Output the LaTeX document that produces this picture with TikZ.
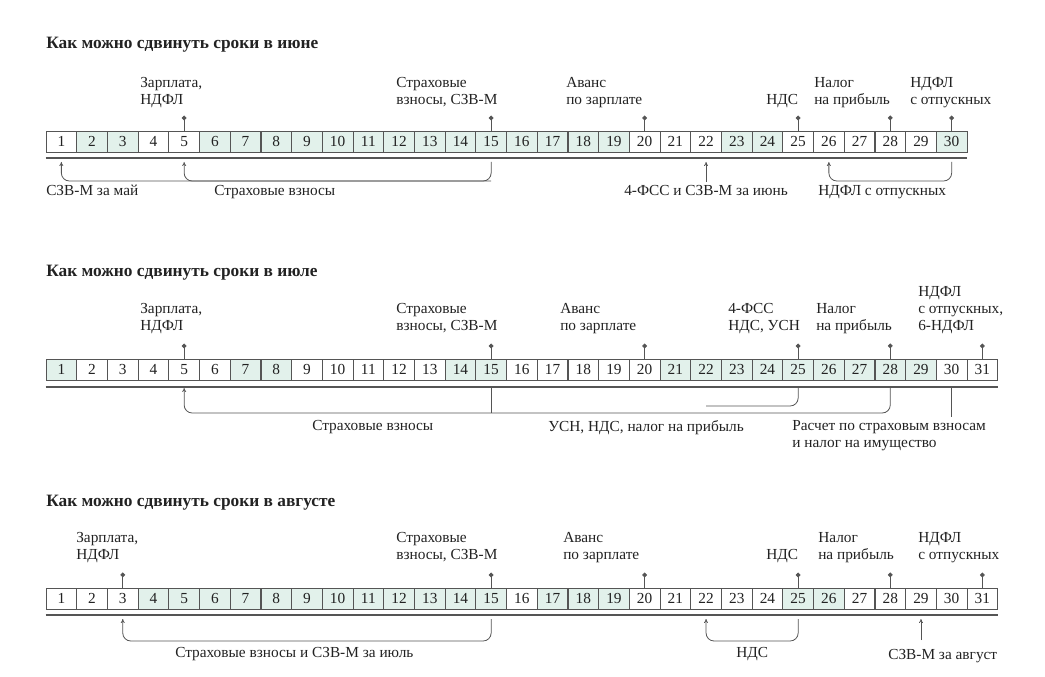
\documentclass[tikz,border=0pt]{standalone}
\usepackage{fontspec}
\setmainfont{Liberation Serif}
\usetikzlibrary{arrows.meta}
\definecolor{shd}{HTML}{E2F1EB}
\definecolor{ln}{HTML}{555555}
\definecolor{tx}{HTML}{222222}
\tikzset{
  cell/.style={draw=ln,line width=0.6pt,minimum width=23pt,minimum height=15.75pt,inner sep=0,text=tx,font=\fontsize{11.5}{13}\selectfont},
  sh/.style={cell,fill=shd},
  wh/.style={cell,fill=white},
  lbl/.style={anchor=north west,inner sep=0,align=left,text=tx,font=\fontsize{11.5}{13}\selectfont},
  ttl/.style={anchor=west,inner sep=0,text=tx,font=\fontsize{13}{15}\selectfont\bfseries},
  pin/.style={draw=ln,line width=0.6pt,{Circle[length=3.5pt]}-},
  br/.style={draw=ln,line width=0.6pt,rounded corners=6pt},
  arr/.style={-{To[length=3pt,width=3pt]}},
  base/.style={draw=ln,line width=0.8pt}
}
\begin{document}
\begin{tikzpicture}[x=0.75pt,y=-0.75pt]
\useasboundingbox (0,0) rectangle (1045,677);
% ===== June =====
\node[ttl] (t1) at (46,45) {Как можно сдвинуть сроки в июне};
\foreach \n in {2,3,6,7,8,9,10,11,12,13,14,15,16,17,18,19,23,24,30}
  \node[sh] (j\n) at ({46+30.7*(\n-0.5)},141.5) {\n};
\foreach \n in {1,4,5,20,21,22,25,26,27,28,29}
  \node[wh] (j\n) at ({46+30.7*(\n-0.5)},141.5) {\n};
\draw[base] (j1.south west |- 0,158) coordinate (jl0) -- (j30.south east |- 0,158) coordinate (jl1);
\foreach \n in {1,5,15,20,22,25,26,28,30}
  \path (j\n.center) ++(0,20.5) coordinate (jt\n);
\coordinate (jy) at (0,181);
\foreach \n in {5,15,20,25,28,30}
  \draw[pin] (j\n.north) ++(0,-15) -- (j\n.north);
\node[lbl] (l1) at (140,77) {Зарплата,\\НДФЛ};
\node[lbl] (l2) at (396,77) {Страховые\\взносы, СЗВ-М};
\node[lbl] (l3) at (566,77) {Аванс\\по зарплате};
\node[lbl] (l4) at (766,94) {НДС};
\node[lbl] (l5) at (814,77) {Налог\\на прибыль};
\node[lbl] (l6) at (910,77) {НДФЛ\\с отпускных};
\draw[br,arr] (jt15) |- (jt1 |- jy) -- (jt1);
\draw[br,arr] (jt15 |- jy) -| (jt5);
\draw[br,arr] (jt30) |- (jt26 |- jy) -- (jt26);
\draw[ln,line width=0.6pt,arr] (jt22 |- 0,182) -- (jt22);
\node[lbl] (b1) at (46,185) {СЗВ-М за май};
\node[lbl] (b2) at (214,185) {Страховые взносы};
\node[lbl] (b3) at (624,185) {4-ФСС и СЗВ-М за июнь};
\node[lbl] (b4) at (818,185) {НДФЛ с отпускных};
% ===== July =====
\node[ttl] (t2) at (46,273) {Как можно сдвинуть сроки в июле};
\foreach \n in {1,7,8,14,15,21,22,23,24,25,26,27,28,29}
  \node[sh] (u\n) at ({46+30.7*(\n-0.5)},369.5) {\n};
\foreach \n in {2,3,4,5,6,9,10,11,12,13,16,17,18,19,20,30,31}
  \node[wh] (u\n) at ({46+30.7*(\n-0.5)},369.5) {\n};
\draw[base] (u1.south west |- 0,387) -- (u31.south east |- 0,387);
\foreach \n in {5,15,20,22,25,28,30,31}
  \path (u\n.center) ++(0,18.5) coordinate (ut\n);
\coordinate (uy) at (0,413);
\foreach \n in {5,15,20,25,28,31}
  \draw[pin] (u\n.north) ++(0,-15) -- (u\n.north);
\node[lbl] (m1) at (140,303) {Зарплата,\\НДФЛ};
\node[lbl] (m2) at (396,303) {Страховые\\взносы, СЗВ-М};
\node[lbl] (m3) at (560,303) {Аванс\\по зарплате};
\node[lbl] (m4) at (728,303) {4-ФСС\\НДС, УСН};
\node[lbl] (m5) at (816,303) {Налог\\на прибыль};
\node[lbl] (m6) at (918,286) {НДФЛ\\с отпускных,\\6-НДФЛ};
\draw[br,arr] (ut28) |- (ut5 |- uy) -- (ut5);
\draw[ln,line width=0.6pt] (ut15) -- (ut15 |- uy);
\draw[br] (ut25) |- (ut22 |- 0,406);
\draw[ln,line width=0.6pt] (ut30) -- (ut30 |- 0,417);
\node[lbl] (c1) at (312,420) {Страховые взносы};
\node[lbl] (c2) at (548,420) {УСН, НДС, налог на прибыль};
\node[lbl] (c3) at (792,420) {Расчет по страховым взносам\\и налог на имущество};
% ===== August =====
\node[ttl] (t3) at (46,503) {Как можно сдвинуть сроки в августе};
\foreach \n in {4,5,6,7,8,9,10,11,12,13,14,15,17,18,19,25,26}
  \node[sh] (a\n) at ({46+30.7*(\n-0.5)},598.5) {\n};
\foreach \n in {1,2,3,16,20,21,22,23,24,27,28,29,30,31}
  \node[wh] (a\n) at ({46+30.7*(\n-0.5)},598.5) {\n};
\draw[base] (a1.south west |- 0,615) -- (a31.south east |- 0,615);
\foreach \n in {3,15,20,22,25,28,29,31}
  \path (a\n.center) ++(0,20.5) coordinate (at\n);
\coordinate (ay) at (0,641);
\foreach \n in {3,15,20,25,28,31}
  \draw[pin] (a\n.north) ++(0,-15) -- (a\n.north);
\node[lbl] (n1) at (76,532) {Зарплата,\\НДФЛ};
\node[lbl] (n2) at (396,532) {Страховые\\взносы, СЗВ-М};
\node[lbl] (n3) at (563,532) {Аванс\\по зарплате};
\node[lbl] (n4) at (766,549) {НДС};
\node[lbl] (n5) at (818,532) {Налог\\на прибыль};
\node[lbl] (n6) at (918,532) {НДФЛ\\с отпускных};
\draw[br,arr] (at15) |- (at3 |- ay) -- (at3);
\draw[br,arr] (at25) |- (at22 |- ay) -- (at22);
\draw[ln,line width=0.6pt,arr] (at29 |- 0,640) -- (at29);
\node[lbl] (d1) at (175,647) {Страховые взносы и СЗВ-М за июль};
\node[lbl] (d2) at (736,647) {НДС};
\node[lbl] (d3) at (888,649) {СЗВ-М за август};
\end{tikzpicture}
\end{document}
